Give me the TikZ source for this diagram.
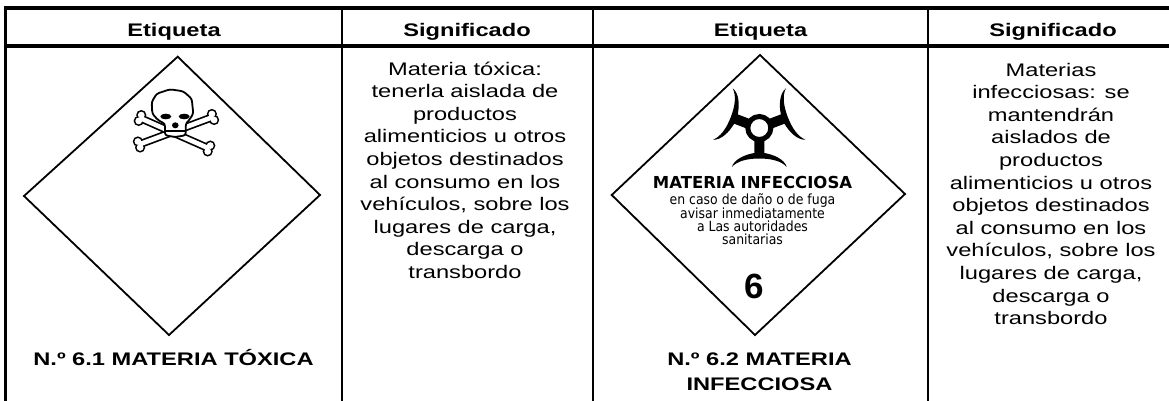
\documentclass[tikz,border=0pt]{standalone}
\usepackage{fontspec}
\setmainfont[FakeStretch=1.3]{Liberation Sans}
\newfontfamily\signfont{DejaVu Sans}
\newfontfamily\signsmall[FakeStretch=0.89]{DejaVu Sans}
\newfontfamily\plainsans{Liberation Sans}
\usetikzlibrary{calc}

\newcommand{\cellfont}{\fontsize{18.2}{22.6}\selectfont}

\tikzset{
  frame/.style={line width=3.8pt},
  colrule/.style={line width=2.6pt},
  plate/.style={line width=1.8pt, line join=miter},
  headtext/.style={anchor=base, font=\cellfont\bfseries},
  celltext/.style={anchor=base, align=center, font=\cellfont},
}

\begin{document}
\begin{tikzpicture}[x=1pt, y=-1pt, every node/.style={inner sep=0pt}]
        \useasboundingbox (0,0) rectangle (1169,400);

        % table
        \draw[frame] (5.5,8) rectangle (1177,420);
        \draw[frame] (5.5,46) -- (1177,46);
        \draw[colrule] (342,8) -- (342,420);
        \draw[colrule] (593,8) -- (593,420);
        \draw[colrule] (928,8) -- (928,420);

        \node[headtext] (head1) at (174,36) {Etiqueta};
        \node[headtext] (head2) at (467,36) {Significado};
        \node[headtext] (head3) at (760.5,36) {Etiqueta};
        \node[headtext] (head4) at (1053,36) {Significado};

        % base of a multi-line node = last line
        \node[celltext] (mean1) at (465,278.4) {Materia tóxica:\\tenerla aislada de\\productos\\alimenticios u otros\\objetos destinados\\al consumo en los\\vehículos, sobre los\\lugares de carga,\\descarga o\\transbordo};
        \node[celltext] (mean2) at (1051,324.6) {Materias\\infecciosas: se\\mantendrán\\aislados de\\productos\\alimenticios u otros\\objetos destinados\\al consumo en los\\vehículos, sobre los\\lugares de carga,\\descarga o\\transbordo};

        % labels
        \draw[plate] (177.7,56.7) -- (320,195) -- (169,335) -- (24,196) -- cycle;
        \draw[plate] (760,55) -- (905,194) -- (755,335) -- (611.7,195) -- cycle;

        \node[headtext] (name1) at (173.5,365) {N.º 6.1 MATERIA TÓXICA};
        \node[celltext, font=\cellfont\bfseries] (name2) at (759.5,390) {N.º 6.2 MATERIA\\[2.4pt]INFECCIOSA};

        % skull and bones
        \coordinate (bone1a) at (140,118);
        \coordinate (bone1b) at (209,148.5);
        \coordinate (bone2a) at (213,117);
        \coordinate (bone2b) at (139,144.5);
        \foreach \p/\q in {bone2a/bone2b, bone1a/bone1b} {
            \draw[line width=8pt] (\p) -- (\q);
            \foreach \e/\f in {\p/\q, \q/\p}
                \foreach \s in {90,-90}
                    \fill ($(\e)!3.2pt!\s:(\f)$) circle (5.1pt);
            \draw[white, line width=4.6pt] (\p) -- (\q);
            \foreach \e/\f in {\p/\q, \q/\p}
                \foreach \s in {90,-90}
                    \fill[white] ($(\e)!3.2pt!\s:(\f)$) circle (3.4pt);
        }
        \draw[fill=white, line width=1.8pt, rounded corners=2.5pt] (152.3,113.7) -- (151.7,102) -- (156.7,93.7) -- (170,89.3) -- (183.3,91.3) -- (191.7,98.7) -- (193.3,113.7) -- (188.3,121.3) -- (185.7,123.7) -- (185.7,135.3) -- (175,137) -- (165,135.3) -- (165,123.7) -- (158.3,120.3) -- cycle;
        \draw[line width=1.5pt] (165,131) -- (185.7,131);
        \fill (165.8,116.5) ellipse (5.5pt and 2.8pt);
        \fill (184.2,116.5) ellipse (5.5pt and 2.8pt);
        \fill (175.3,125.3) ellipse (3.3pt and 3pt);

        % biohazard
        \coordinate (bio) at (759.3,128);
        \foreach \a in {0,111,-111}
            \fill[rotate around={\a:(bio)}, shift={(bio)}] (-27.5,39) .. controls (-25,31) and (-14,26.5) .. (-5,25) -- (-5,12) -- (5,12) -- (5,25) .. controls (14,26.5) and (25,31) .. (27.5,39) .. controls (22,33) and (12,30.5) .. (0,30.5) .. controls (-12,30.5) and (-22,33) .. (-27.5,39) -- cycle;
        \draw[line width=5pt] (bio) circle (11.5pt);

        \node[anchor=base, font=\signfont\bfseries\fontsize{16.5}{18}\selectfont] (signtitle) at (752.5,188.3) {MATERIA INFECCIOSA};
        \node[anchor=base, align=center, font=\signsmall\fontsize{14}{12.7}\selectfont] (signtext) at (752.5,244.1) {en caso de daño o de fuga\\avisar inmediatamente\\a Las autoridades\\sanitarias};
        \node[anchor=base, font=\plainsans\bfseries\fontsize{35}{40}\selectfont] (signclass) at (754,298.3) {6};
    \end{tikzpicture}
\end{document}
